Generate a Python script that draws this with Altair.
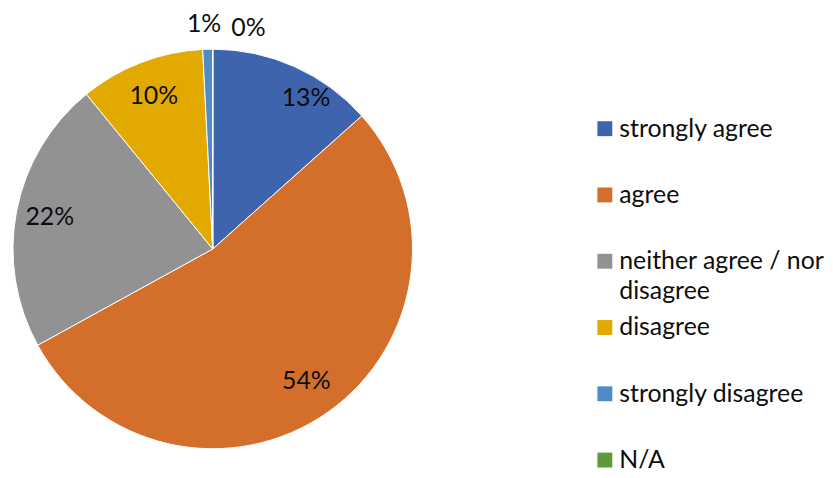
import altair as alt
import pandas as pd

categories = ["strongly agree", "agree", "neither agree / nor disagree",
              "disagree", "strongly disagree", "N/A"]
values = [13.4, 53.6, 22.1, 10.1, 0.8, 0.0]
colors = ["#3D64AD", "#D36F2B", "#929292", "#E2A900", "#4F8BC6", "#5E9A3B"]

df = pd.DataFrame({"category": categories, "value": values,
                   "idx": list(range(len(categories)))})

FONT = "Lato"
FS = 25
LFS = 25
CX, CY, R = 206, 241, 201

color = alt.Color("category:N", scale=alt.Scale(domain=categories, range=colors), legend=None)
tscale = alt.Scale(domain=[0, 100])

base = alt.Chart(df)

arcs = base.mark_arc(radius=R, stroke="white", strokeWidth=1).encode(
    theta=alt.Theta("value:Q", stack=True, scale=tscale),
    color=color,
    order=alt.Order("idx:Q"),
    x=alt.value(CX), y=alt.value(CY),
)

lab = base.transform_window(
    cum="sum(value)", sort=[alt.SortField("idx")], frame=[None, 0]
).transform_calculate(
    mid="datum.cum - datum.value / 2",
    label="format(datum.value / 100, '.0%')",
)


def label_layer(cats, radius, dx=0, dy=0):
    return lab.transform_filter(
        alt.FieldOneOfPredicate(field="category", oneOf=cats)
    ).mark_text(font=FONT, fontSize=FS, color="#0d0d0d", align="center",
                baseline="middle", dx=dx, dy=dy).encode(
        theta=alt.Theta("mid:Q", stack=False, scale=tscale),
        radius=alt.value(radius),
        text="label:N",
        x=alt.value(CX), y=alt.value(CY),
    )


labels = alt.layer(
    label_layer(["agree"], 163),
    label_layer(["neither agree / nor disagree"], 167),
    label_layer(["disagree"], 165),
    label_layer(["strongly agree"], 166, dx=26),
    label_layer(["strongly disagree"], 226, dx=-3),
    label_layer(["N/A"], 222, dx=36),
)

pie = alt.layer(arcs, labels).properties(width=412, height=460)

ly = alt.Y("category:N", sort=categories, axis=None,
           scale=alt.Scale(domain=categories, range=[120, 453.4], padding=0))

leg_sq = base.mark_square(size=225, opacity=1).encode(
    y=ly, x=alt.value(188.5), color=color,
)
leg_tx = base.transform_calculate(
    disp="replace(datum.category, 'nor ', 'nor\\n')"
).mark_text(font=FONT, fontSize=LFS, color="#0d0d0d", align="left",
            baseline="alphabetic", dy=8, lineBreak="\n", lineHeight=30).encode(
    y=ly, x=alt.value(203), text="disp:N",
)
legend = alt.layer(leg_sq, leg_tx).properties(width=395, height=460)

chart = alt.hconcat(pie, legend, spacing=0).configure(
    padding=0, background="white"
).configure_view(stroke=None)

chart.save("out.html", embed_options={"renderer": "svg", "actions": False})
